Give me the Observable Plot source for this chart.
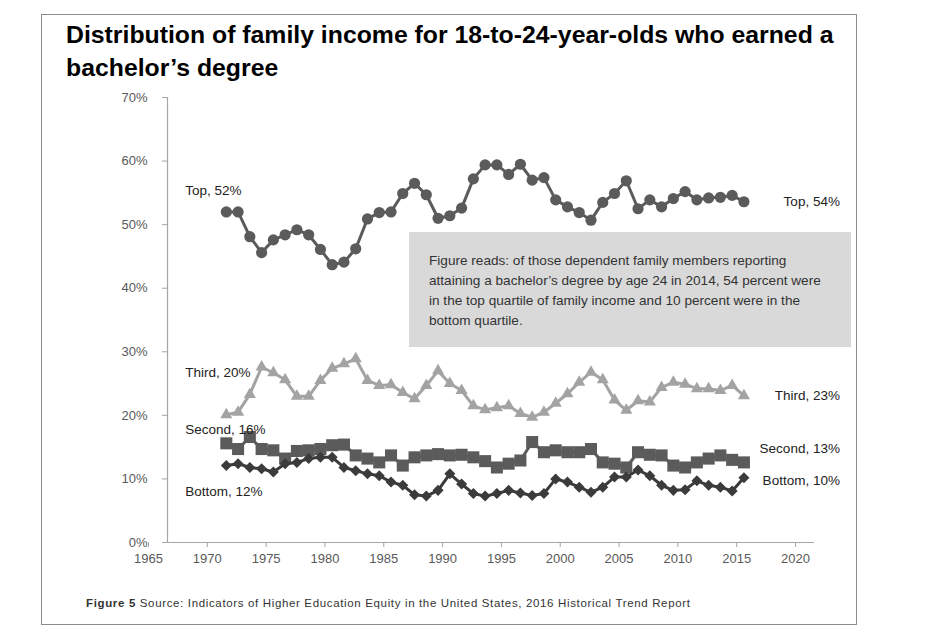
<!DOCTYPE html>
<html><head><meta charset="utf-8">
<script src="https://cdn.jsdelivr.net/npm/d3@7"></script>
<script src="https://cdn.jsdelivr.net/npm/@observablehq/plot@0.6"></script>
<style>
body{margin:0;background:#fff;}
#wrap{position:relative;width:950px;height:640px;font-family:"Liberation Sans",Arial,sans-serif;}
#frame{position:absolute;left:41px;top:14px;width:816px;height:611px;border:1px solid #8c8c8c;box-sizing:border-box;}
#title{position:absolute;left:66px;top:18px;font-weight:bold;font-size:24.8px;line-height:33px;color:#000;white-space:nowrap;}
#chart{position:absolute;left:0;top:85px;}
#note{position:absolute;left:409px;top:232px;width:442px;height:115px;background:#d9d9d9;box-sizing:border-box;padding:19px 0 0 20px;font-size:13.6px;line-height:20px;color:#333;white-space:nowrap;}
#foot{position:absolute;left:86px;top:597px;font-size:11.5px;letter-spacing:0.65px;color:#333;white-space:nowrap;}
</style></head>
<body>
<div id="wrap">
<div id="frame"></div>
<div id="title">Distribution of family income for 18-to-24-year-olds who earned a<br>bachelor’s degree</div>
<div id="chart"></div>
<div id="note">Figure reads: of those dependent family members reporting<br>attaining a bachelor’s degree by age 24 in 2014, 54 percent were<br>in the top quartile of family income and 10 percent were in the<br>bottom quartile.</div>
<div id="foot"><b>Figure 5</b> Source: Indicators of Higher Education Equity in the United States, 2016 Historical Trend Report</div>
</div>
<script>
const years = [1970,1971,1972,1973,1974,1975,1976,1977,1978,1979,1980,1981,1982,1983,1984,1985,1986,1987,1988,1989,1990,1991,1992,1993,1994,1995,1996,1997,1998,1999,2000,2001,2002,2003,2004,2005,2006,2007,2008,2009,2010,2011,2012,2013,2014];
const topQuartile = [52.0,52.0,48.1,45.6,47.6,48.4,49.2,48.4,46.1,43.7,44.1,46.2,50.9,51.9,52.0,54.9,56.5,54.7,51.0,51.4,52.6,57.2,59.4,59.4,57.9,59.5,57.0,57.4,53.9,52.8,51.9,50.7,53.5,54.9,56.9,52.5,53.9,52.8,54.1,55.2,53.9,54.2,54.3,54.6,53.6];
const thirdQuartile = [20.1,20.5,23.3,27.6,26.7,25.6,23.0,23.0,25.5,27.4,28.1,28.9,25.5,24.7,24.8,23.6,22.6,24.7,27.0,25.0,23.9,21.5,20.9,21.2,21.5,20.3,19.7,20.5,21.9,23.4,25.2,26.8,25.6,22.4,20.8,22.3,22.1,24.4,25.2,24.9,24.2,24.2,23.9,24.7,23.1];
const secondQuartile = [15.6,14.7,16.6,14.7,14.5,13.2,14.4,14.5,14.7,15.3,15.4,13.7,13.2,12.6,13.7,12.1,13.4,13.7,13.9,13.7,13.8,13.4,12.8,11.8,12.4,12.9,15.8,14.2,14.5,14.2,14.2,14.7,12.6,12.4,11.8,14.2,13.8,13.7,12.1,11.8,12.6,13.2,13.7,13.0,12.6];
const bottomQuartile = [12.1,12.4,11.8,11.6,11.1,12.4,12.6,13.2,13.4,13.4,11.8,11.3,10.8,10.5,9.5,9.0,7.5,7.3,8.2,10.8,9.2,7.7,7.3,7.7,8.2,7.8,7.4,7.7,10.0,9.5,8.7,7.9,8.7,10.3,10.3,11.4,10.5,9.0,8.2,8.3,9.7,9.0,8.7,8.1,10.2];
const seriesNames = ["Top","Third","Second","Bottom"];
const startLabels = ["Top, 52%","Third, 20%","Second, 16%","Bottom, 12%"];
const endLabels = ["Top, 54%","Third, 23%","Second, 13%","Bottom, 10%"];
const xTicks = [1965,1970,1975,1980,1985,1990,1995,2000,2005,2010,2015,2020];
const yTicks = [0,10,20,30,40,50,60,70];

const seriesValues = [topQuartile, thirdQuartile, secondQuartile, bottomQuartile];

// styles
const diamond = {draw(context, size){const a=Math.sqrt(size/2);context.moveTo(0,-a);context.lineTo(a,0);context.lineTo(0,a);context.lineTo(-a,0);context.closePath();}};
const styles = {
  Top:{color:"#5b5b5b", symbol:"circle", r:5.6, sdx:-41, sdy:-21, edy:0},
  Third:{color:"#a3a3a3", symbol:"triangle", r:4.5, sdx:-41, sdy:-42, edy:0},
  Second:{color:"#5b5b5b", symbol:"square", r:6.8, sdx:-41, sdy:-14, edy:-14},
  Bottom:{color:"#3b3b3b", symbol:diamond, r:4.4, sdx:-41, sdy:26, edy:3}
};
const font = "Liberation Sans, Arial, sans-serif";

const marks = [
  Plot.ruleX([1965], {y1:0, y2:70, stroke:"#a6a6a6", strokeWidth:1.2}),
  Plot.ruleY([0], {x1:1965, x2:2020, stroke:"#a6a6a6", strokeWidth:1.2}),
  Plot.axisY({ticks:yTicks, tickFormat:d=>d+"%", tickSize:5, tickPadding:15, stroke:"#a6a6a6", fill:"#595959", fontSize:13, fontFamily:font, label:null}),
  Plot.axisX({ticks:xTicks, tickFormat:d=>String(d), tickSize:5, tickPadding:6, dx:-19, stroke:"#a6a6a6", fill:"#595959", fontSize:13, fontFamily:font, label:null})
];

seriesNames.forEach((name, i) => {
  const rows = years.map((y, j) => ({year:y, value:seriesValues[i][j]}));
  const s = styles[name];
  marks.push(Plot.line(rows, {x:"year", y:"value", stroke:s.color, strokeWidth:3}));
  marks.push(Plot.dot(rows, {x:"year", y:"value", symbol:s.symbol, r:s.r, fill:s.color, stroke:"none"}));
  marks.push(Plot.text([rows[0]], {x:"year", y:"value", text:()=>startLabels[i], textAnchor:"start", dx:s.sdx, dy:s.sdy, fill:"#222", fontSize:13.5, fontFamily:font}));
  marks.push(Plot.text([rows[rows.length-1]], {x:"year", y:"value", text:()=>endLabels[i], textAnchor:"end", dx:96, dy:s.edy, fill:"#222", fontSize:13.5, fontFamily:font}));
});

const chart = Plot.plot({
  width:950, height:487,
  marginLeft:167, marginRight:136, marginTop:12, marginBottom:30,
  x:{domain:[1965,2020]},
  y:{domain:[0,70]},
  symbol:{type:"identity"},
  style:{background:"transparent", overflow:"visible"},
  marks
});
document.getElementById("chart").appendChild(chart);
</script>
</body></html>
